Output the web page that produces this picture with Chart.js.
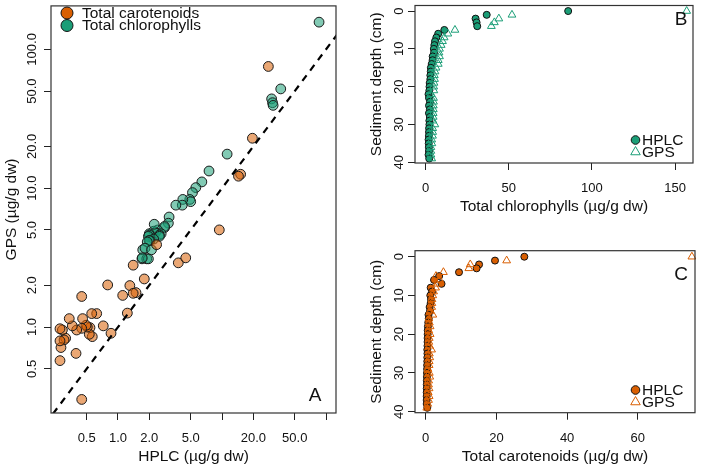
<!DOCTYPE html>
<html>
<head>
<meta charset="utf-8">
<script src="https://cdn.jsdelivr.net/npm/chart.js@4.4.0/dist/chart.umd.min.js"></script>
<style>
  html, body { margin: 0; padding: 0; background: #fff; }
  #wrap { position: relative; width: 702px; height: 466px; overflow: hidden; }
  canvas { position: absolute; }
</style>
</head>
<body>
<div id="wrap">
  <canvas id="chartA" width="350" height="466" style="left:0px;top:0px"></canvas>
  <canvas id="chartB" width="352" height="230" style="left:350px;top:0px"></canvas>
  <canvas id="chartC" width="352" height="236" style="left:350px;top:230px"></canvas>
</div>
<script>
// Sediment slices (cm)
const depth = [0, 1, 2, 3, 4, 5, 6, 7, 8, 9, 10, 11, 12, 13, 14, 15, 16, 17, 18, 19,
  20, 21, 22, 23, 24, 25, 26, 27, 28, 29, 30, 31, 32, 33, 34, 35, 36, 37, 38, 39];

// Total chlorophylls (µg/g dw) per slice
const chlHPLC = [85.7, 36.7, 30.0, 30.6, 31.0, 11.2, 7.5, 6.4, 5.6, 5.2,
  4.9, 5.0, 4.2, 4.15, 3.6, 3.1, 3.05, 2.8, 2.8, 2.4,
  2.3, 2.2, 1.7, 2.0, 2.6, 2.0, 2.5, 1.96, 2.5, 2.2,
  2.23, 2.03, 1.99, 1.91, 1.73, 1.82, 1.89, 1.96, 1.71, 2.1];
const chlGPS = [157, 51.9, 44.0, 41.3, 39.5, 17.6, 13.3, 11.1, 10.1, 9.3,
  8.3, 8.0, 8.3, 7.55, 7.55, 6.2, 5.6, 5.2, 5.3, 5.0,
  4.8, 4.9, 3.1, 4.7, 4.7, 4.6, 4.6, 4.5, 4.5, 4.3,
  5.5, 4.2, 4.2, 4.1, 3.6, 3.7, 3.1, 3.1, 3.15, 3.6];

// Total carotenoids (µg/g dw) per slice
const carHPLC = [27.9, 19.6, 15.1, 14.4, 9.42, 3.80, 2.35, 4.48, 1.40, 1.79,
  1.30, 1.49, 1.40, 1.11, 1.23, 0.796, 0.857, 0.722, 0.624, 0.566,
  0.559, 0.538, 0.530, 0.507, 0.448, 0.493, 0.457, 0.448, 0.401, 0.395,
  0.364, 0.340, 0.314, 0.303, 0.292, 0.283, 0.277, 0.277, 0.277, 0.448];
const carGPS = [75.3, 22.9, 12.6, 12.2, 5.01, 2.90, 3.92, 3.15, 2.79, 2.22,
  1.99, 1.77, 1.75, 1.69, 1.26, 2.01, 0.902, 1.02, 1.25, 0.853,
  1.25, 0.99, 0.887, 1.00, 1.66, 1.03, 1.15, 0.979, 0.952, 0.646,
  1.02, 1.15, 0.831, 0.808, 0.952, 0.712, 0.972, 0.795, 0.573, 0.301];

// Tick values and labels
const logTicks = [0.5, 1, 2, 5, 10, 20, 50, 100];
const xLabelsA = ['0.5', '1.0', '2.0', '5.0', '', '20.0', '50.0', ''];
const yLabelsA = ['0.5', '1.0', '2.0', '5.0', '10.0', '20.0', '50.0', '100.0'];
const depthTicks = [0, 10, 20, 30, 40];
const chlTicks = [0, 50, 100, 150];
const carTicks = [0, 20, 40, 60];
const oneToOne = [0.1, 1000];

const ORANGE = '#D95F02';
const GREEN = '#1B9E77';
const FONT = "'Liberation Sans', Arial, Helvetica, sans-serif";

// Pairs for Chart.js points
function pairs(xs, ys) {
  return xs.map((v, i) => ({ x: v, y: ys[i] }));
}

// Fix axis size so the plot box lands where the figure has it
function fixedAxis(size, horizontal) {
  return function(scale) {
    if (horizontal) scale.height = size; else scale.width = size;
    scale.paddingLeft = 0;
    scale.paddingRight = 0;
    scale.paddingTop = 0;
    scale.paddingBottom = 0;
  };
}

function setTicks(values) {
  return function(scale) {
    scale.ticks = values.map(v => ({ value: v }));
  };
}

// Build one axis
function axis(cfg) {
  const horizontal = cfg.position === 'bottom';
  return {
    type: cfg.type || 'linear',
    position: cfg.position,
    min: cfg.min,
    max: cfg.max,
    reverse: !!cfg.reverse,
    bounds: 'data',
    afterBuildTicks: setTicks(cfg.ticks),
    afterFit: fixedAxis(cfg.size, horizontal),
    grid: {
      display: true,
      drawOnChartArea: false,
      drawTicks: true,
      tickLength: 7,
      tickWidth: 1,
      tickColor: '#222'
    },
    border: { display: false },
    ticks: {
      autoSkip: false,
      minRotation: horizontal ? 0 : 90,
      maxRotation: horizontal ? 0 : 90,
      crossAlign: horizontal ? 'near' : 'center',
      padding: cfg.labelPad,
      color: '#111',
      font: { family: FONT, size: 13 },
      callback: function(value, index) {
        return cfg.labels ? cfg.labels[index] : String(value);
      }
    },
    title: {
      display: true,
      text: cfg.title,
      color: '#111',
      font: { family: FONT, size: 15.5 },
      padding: horizontal ? { top: 0, bottom: cfg.titlePad } : { top: cfg.titlePad, bottom: 0 }
    }
  };
}

// Small shapes for the legends
function drawDot(ctx, x, y, r, color) {
  ctx.beginPath();
  ctx.arc(x, y, r, 0, Math.PI * 2);
  ctx.fillStyle = color;
  ctx.fill();
  ctx.lineWidth = 1;
  ctx.strokeStyle = '#111';
  ctx.stroke();
}

function drawTriangle(ctx, x, y, r, color) {
  ctx.beginPath();
  for (let k = 0; k < 3; k++) {
    const a = k * 2 * Math.PI / 3;
    const px = x + Math.sin(a) * r;
    const py = y - Math.cos(a) * r;
    if (k === 0) ctx.moveTo(px, py); else ctx.lineTo(px, py);
  }
  ctx.closePath();
  ctx.lineWidth = 1;
  ctx.strokeStyle = color;
  ctx.stroke();
}

// Frame, panel letter and legend
function decorations(letter, letterX, letterY, legend) {
  return {
    id: 'decorations',
    afterDraw(chart) {
      const ctx = chart.ctx;
      const a = chart.chartArea;
      ctx.save();
      ctx.strokeStyle = '#333';
      ctx.lineWidth = 1.2;
      ctx.strokeRect(a.left, a.top, a.right - a.left, a.bottom - a.top);

      ctx.fillStyle = '#111';
      ctx.font = '19px ' + FONT;
      ctx.textAlign = 'center';
      ctx.textBaseline = 'middle';
      ctx.fillText(letter, letterX, letterY);

      legend.items.forEach((item, i) => {
        const y = legend.y + i * legend.dy;
        if (item.shape === 'triangle') drawTriangle(ctx, legend.x, y, legend.tri, item.color);
        else drawDot(ctx, legend.x, y, legend.dot, item.color);
        ctx.fillStyle = '#111';
        ctx.font = '15.5px ' + FONT;
        ctx.textAlign = 'left';
        ctx.textBaseline = 'middle';
        ctx.fillText(item.label, legend.textX, y + 0.5);
      });
      ctx.restore();
    }
  };
}

const baseOptions = {
  responsive: false,
  animation: false,
  devicePixelRatio: 1,
  events: [],
  plugins: { legend: { display: false }, tooltip: { enabled: false } }
};

// Panel A: GPS vs HPLC, log-log
new Chart(document.getElementById('chartA'), {
  type: 'scatter',
  data: {
    datasets: [
      {
        label: '1:1',
        data: oneToOne.map(v => ({ x: v, y: v })),
        showLine: true,
        borderColor: '#000',
        borderWidth: 2.2,
        borderDash: [7, 6],
        pointRadius: 0,
        fill: false,
        clip: 0
      },
      {
        label: 'Total carotenoids',
        data: pairs(carHPLC, carGPS),
        backgroundColor: 'rgba(217, 95, 2, 0.55)',
        borderColor: '#1a1a1a',
        borderWidth: 1,
        pointRadius: 4.9,
        clip: false
      },
      {
        label: 'Total chlorophylls',
        data: pairs(chlHPLC, chlGPS),
        backgroundColor: 'rgba(27, 158, 119, 0.55)',
        borderColor: '#1a1a1a',
        borderWidth: 1,
        pointRadius: 4.9,
        clip: false
      }
    ]
  },
  options: Object.assign({}, baseOptions, {
    layout: { padding: { left: 0, top: 1, right: 14, bottom: 0 } },
    scales: {
      x: axis({ type: 'logarithmic', position: 'bottom', min: 0.227, max: 124.7,
        ticks: logTicks, labels: xLabelsA, size: 53, labelPad: 10.7,
        title: 'HPLC (µg/g dw)', titlePad: 0 }),
      y: axis({ type: 'logarithmic', position: 'left', min: 0.2404, max: 205.6,
        ticks: logTicks, labels: yLabelsA, size: 51, labelPad: -4.3,
        title: 'GPS (µg/g dw)', titlePad: 2.7 })
    }
  }),
  plugins: [decorations('A', 315, 396, {
    x: 67, y: 13, dy: 12.5, textX: 82, dot: 6, tri: 6,
    items: [
      { label: 'Total carotenoids', color: ORANGE, shape: 'dot' },
      { label: 'Total chlorophylls', color: GREEN, shape: 'dot' }
    ]
  })]
});

// Depth profile panel (B and C)
function depthProfile(id, hplc, gps, color, xCfg, letterY, legendY, pad) {
  return new Chart(document.getElementById(id), {
    type: 'scatter',
    data: {
      datasets: [
        {
          label: 'GPS',
          data: pairs(gps, depth),
          pointStyle: 'triangle',
          backgroundColor: 'rgba(0, 0, 0, 0)',
          borderColor: color,
          borderWidth: 1,
          pointRadius: 4.5,
          clip: false
        },
        {
          label: 'HPLC',
          data: pairs(hplc, depth),
          pointStyle: 'circle',
          backgroundColor: color,
          borderColor: '#111',
          borderWidth: 1,
          pointRadius: 3.5,
          clip: false
        }
      ]
    },
    options: Object.assign({}, baseOptions, {
      layout: { padding: pad },
      scales: {
        x: axis(xCfg),
        y: axis({ position: 'left', min: xCfg.yMin, max: xCfg.yMax, reverse: true,
          ticks: depthTicks, size: 65, labelPad: 1.8,
          title: 'Sediment depth (cm)', titlePad: 17.7 })
      }
    }),
    plugins: [decorations(id === 'chartB' ? 'B' : 'C', 331, letterY, {
      x: 285.5, y: legendY, dy: 12, textX: 292, dot: 4.3, tri: 5.5,
      items: [
        { label: 'HPLC', color: color, shape: 'dot' },
        { label: 'GPS', color: color, shape: 'triangle' }
      ]
    })]
  });
}

depthProfile('chartB', chlHPLC, chlGPS, GREEN, {
  position: 'bottom', min: -6.44, max: 160.8, ticks: chlTicks, size: 67,
  labelPad: 10.7, title: 'Total chlorophylls (µg/g dw)', titlePad: 13.7,
  yMin: -1.47, yMax: 40.18
}, 20, 140, { left: 0, top: 1, right: 9, bottom: 0 });

depthProfile('chartC', carHPLC, carGPS, ORANGE, {
  position: 'bottom', min: -3.03, max: 76.18, ticks: carTicks, size: 53.3,
  labelPad: 10.7, title: 'Total carotenoids (µg/g dw)', titlePad: 0,
  yMin: -1.55, yMax: 40.26
}, 45, 160, { left: 0, top: 20.7, right: 7, bottom: 0 });
</script>
</body>
</html>
